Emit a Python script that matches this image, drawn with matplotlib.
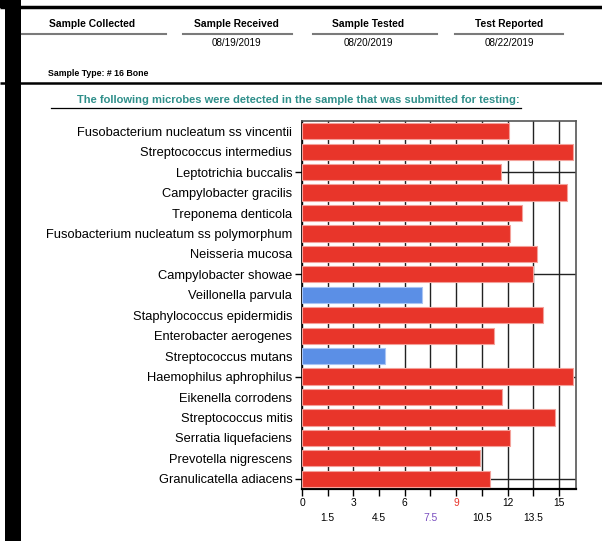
import numpy as np
import matplotlib
matplotlib.use("Agg")
import matplotlib.pyplot as plt

plt.rcParams["font.family"] = ["Liberation Sans", "DejaVu Sans"]

# ---- data ----
microbes = [
    "Fusobacterium nucleatum ss vincentii",
    "Streptococcus intermedius",
    "Leptotrichia buccalis",
    "Campylobacter gracilis",
    "Treponema denticola",
    "Fusobacterium nucleatum ss polymorphum",
    "Neisseria mucosa",
    "Campylobacter showae",
    "Veillonella parvula",
    "Staphylococcus epidermidis",
    "Enterobacter aerogenes",
    "Streptococcus mutans",
    "Haemophilus aphrophilus",
    "Eikenella corrodens",
    "Streptococcus mitis",
    "Serratia liquefaciens",
    "Prevotella nigrescens",
    "Granulicatella adiacens",
]
levels = [12.1, 15.8, 11.6, 15.5, 12.85, 12.15, 13.75, 13.5, 7.0, 14.05,
          11.2, 4.85, 15.8, 11.7, 14.8, 12.15, 10.4, 11.0]
is_low = [False] * 8 + [True] + [False] * 2 + [True] + [False] * 6

major_ticks = [0, 3, 6, 9, 12, 15]
minor_ticks = [1.5, 4.5, 7.5, 10.5, 13.5]
grid_rows = [2, 7, 12, 17]

header_titles = ["Sample Collected", "Sample Received", "Sample Tested", "Test Reported"]
header_dates = ["", "08/19/2019", "08/20/2019", "08/22/2019"]
sample_type = "Sample Type: # 16 Bone"
intro_text = "The following microbes were detected in the sample that was submitted for testing:"

RED = "#e8352a"
BLUE = "#5b8fe6"
W, H = 602, 541

fig = plt.figure(figsize=(W / 100, H / 100), dpi=100)

# ---- page overlay in pixel coordinates ----
page = fig.add_axes([0, 0, 1, 1])
page.set_xlim(0, W)
page.set_ylim(H, 0)
page.axis("off")

page.fill_between([5, 21], 0, H, color="black", lw=0)
page.fill_between([0, 21], 0, 8, color="black", lw=0)
page.plot([0, W], [6.5, 6.5], color="black", lw=2.5, solid_capstyle="butt")
page.plot([0, W], [83, 83], color="black", lw=1.8, solid_capstyle="butt")

col_x = [92, 236, 368, 509]
col_span = [(22, 166), (183, 292), (313, 437), (455, 563)]
for title, date, cx, (x0, x1) in zip(header_titles, header_dates, col_x, col_span):
    page.text(cx, 24, title, ha="center", va="center", fontsize=7.4, fontweight="bold")
    page.plot([x0, x1], [34, 34], color="#7a7a7a", lw=1.5)
    if date:
        page.text(cx, 42.5, date, ha="center", va="center", fontsize=7.1)

page.text(48, 73, sample_type, ha="left", va="center", fontsize=6.3, fontweight="bold")
page.text(298, 100, intro_text, ha="center", va="center", fontsize=8.0,
          fontweight="bold", color="#2f8f8a")
page.plot([51, 521], [108, 108], color="black", lw=0.9)

# ---- bar chart ----
ax = fig.add_axes([302 / W, 1 - 489 / H, (576 - 302) / W, (489 - 121) / H])
y = np.arange(len(microbes))
colors = [BLUE if low else RED for low in is_low]
edges = ["#a9c5f4" if low else "#f4a19a" for low in is_low]
ax.barh(y, levels, height=0.79, color=colors, edgecolor=edges, linewidth=0.8, zorder=3)

ax.set_xlim(0, 16)
ax.set_ylim(len(microbes) - 0.5, -0.5)

ax.yaxis.remove_overlapping_locs = False
ax.set_yticks(y)
ax.set_yticklabels(microbes, fontsize=9.3)
ax.set_yticks(grid_rows, minor=True)
ax.tick_params(axis="y", which="major", length=0, pad=7)
ax.tick_params(axis="y", which="minor", length=5, width=1)

ax.set_xticks(major_ticks)
ax.set_xticklabels([str(t) for t in major_ticks], fontsize=7.4)
ax.set_xticks(minor_ticks, minor=True)
ax.set_xticklabels([str(t) for t in minor_ticks], minor=True, fontsize=7.4)
ax.tick_params(axis="x", which="both", length=5, width=1, direction="out")
ax.tick_params(axis="x", which="major", pad=1.5)
ax.tick_params(axis="x", which="minor", pad=12)
ax.get_xticklabels()[3].set_color(RED)
ax.get_xticklabels(minor=True)[2].set_color("#7a4fc0")

ax.grid(axis="x", which="both", color="#222222", lw=1)
ax.grid(axis="y", which="minor", color="#222222", lw=1)
ax.set_axisbelow(True)

for side in ["top", "right"]:
    ax.spines[side].set_color("#555555")
    ax.spines[side].set_linewidth(1.2)
ax.spines["bottom"].set_linewidth(1.6)
ax.spines["left"].set_linewidth(1.2)

fig.savefig("out.png", dpi=100)
